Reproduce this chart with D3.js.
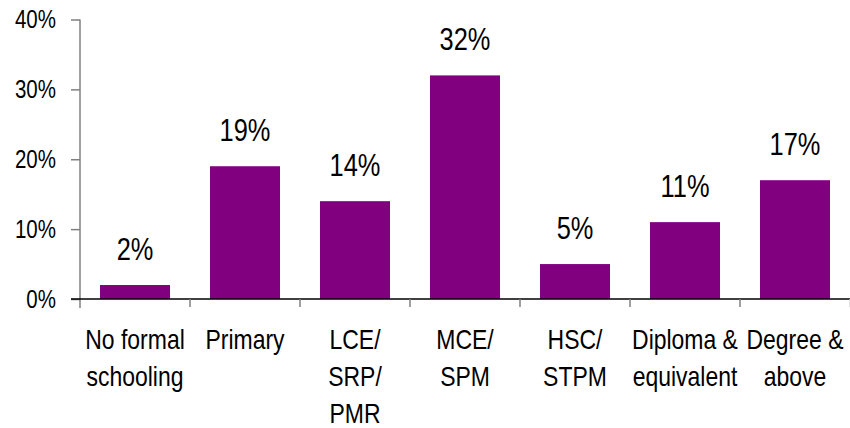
<!DOCTYPE html>
<html lang="en">
<head>
    <meta charset="UTF-8">
    <script src="https://d3js.org/d3.v7.min.js"></script>
    <title>Education level</title>
    <style>
        body { margin: 0; background: #fff; }
        text { font-family: "Liberation Sans", Arial, sans-serif; fill: #000; }
    </style>
</head>
<body>
    <div id="chart"></div>

    <script>
        // Data
        var categories = [
            ["No formal", "schooling"],
            ["Primary"],
            ["LCE/", "SRP/", "PMR"],
            ["MCE/", "SPM"],
            ["HSC/", "STPM"],
            ["Diploma &", "equivalent"],
            ["Degree &", "above"]
        ];
        var values = [0.02, 0.19, 0.14, 0.32, 0.05, 0.11, 0.17];
        var yTicks = [0, 0.1, 0.2, 0.3, 0.4];

        var width = 850,
            height = 428;

        // no Arial Narrow here, so squeeze Liberation Sans sideways
        var squeeze = 0.82;
        function place(x, y) {
            return "translate(" + x + "," + y + ") scale(" + squeeze + ",1)";
        }

        var svg = d3.select("#chart").append("svg")
            .attr("width", width)
            .attr("height", height);

        var xScale = d3.scaleBand()
            .domain(d3.range(categories.length))
            .range([80, 850])
            .paddingInner(40 / 110)
            .paddingOuter(20 / 110);

        var yScale = d3.scaleLinear()
            .domain([0, 0.4])
            .range([299, 19.5]);

        var gap = (xScale.step() - xScale.bandwidth()) / 2;

        // y axis ticks
        var yAxis = svg.append("g")
            .attr("transform", "translate(80,0)")
            .call(d3.axisLeft(yScale)
                .tickValues(yTicks)
                .tickSize(9)
                .tickSizeOuter(0)
                .tickFormat(""));
        yAxis.select(".domain").remove();
        yAxis.selectAll("line").attr("stroke", "#808080").attr("stroke-width", 1.5);

        svg.selectAll("text.ytick")
            .data(yTicks)
            .enter()
            .append("text")
            .attr("class", "ytick")
            .text(d3.format(".0%"))
            .attr("text-anchor", "end")
            .attr("transform", function (d) { return place(56, yScale(d) + 8.5); })
            .attr("font-size", "25px");

        svg.append("line")
            .attr("x1", 80).attr("x2", 80)
            .attr("y1", yScale(0.4)).attr("y2", yScale(0) + 9)
            .attr("stroke", "#808080")
            .attr("stroke-width", 1.5);

        // bars
        svg.selectAll("rect")
            .data(values)
            .enter()
            .append("rect")
            .attr("x", function (d, i) { return xScale(i); })
            .attr("y", function (d) { return yScale(d); })
            .attr("width", xScale.bandwidth())
            .attr("height", function (d) { return yScale(0) - yScale(d); })
            .attr("fill", "#800080");

        // x axis line + ticks at band boundaries
        svg.append("line")
            .attr("x1", 71).attr("x2", 850)
            .attr("y1", yScale(0)).attr("y2", yScale(0))
            .attr("stroke", "#000")
            .attr("stroke-width", 1.5);

        svg.selectAll("line.xtick")
            .data(d3.range(1, categories.length + 1))
            .enter()
            .append("line")
            .attr("class", "xtick")
            .attr("x1", function (d) { return xScale(d - 1) + xScale.bandwidth() + gap; })
            .attr("x2", function (d) { return xScale(d - 1) + xScale.bandwidth() + gap; })
            .attr("y1", yScale(0))
            .attr("y2", yScale(0) + 8)
            .attr("stroke", function (d) { return d == categories.length ? "#d8d8d8" : "#808080"; })
            .attr("stroke-width", 1.5);

        // value labels
        svg.selectAll("text.value")
            .data(values)
            .enter()
            .append("text")
            .attr("class", "value")
            .text(function (d) { return Math.round(d * 100) + "%"; })
            .attr("text-anchor", "middle")
            .attr("transform", function (d, i) {
                return place(xScale(i) + xScale.bandwidth() / 2, yScale(d) - 25);
            })
            .attr("font-size", "31px");

        // category labels
        var cats = svg.selectAll("text.cat")
            .data(categories)
            .enter()
            .append("text")
            .attr("class", "cat")
            .attr("text-anchor", "middle")
            .attr("transform", function (d, i) {
                return place(xScale(i) + xScale.bandwidth() / 2, 349);
            })
            .attr("font-size", "28px");

        cats.selectAll("tspan")
            .data(function (d) { return d; })
            .enter()
            .append("tspan")
            .attr("x", 0)
            .attr("y", function (d, j) { return j * 37; })
            .text(function (d) { return d; });
    </script>
</body>
</html>
